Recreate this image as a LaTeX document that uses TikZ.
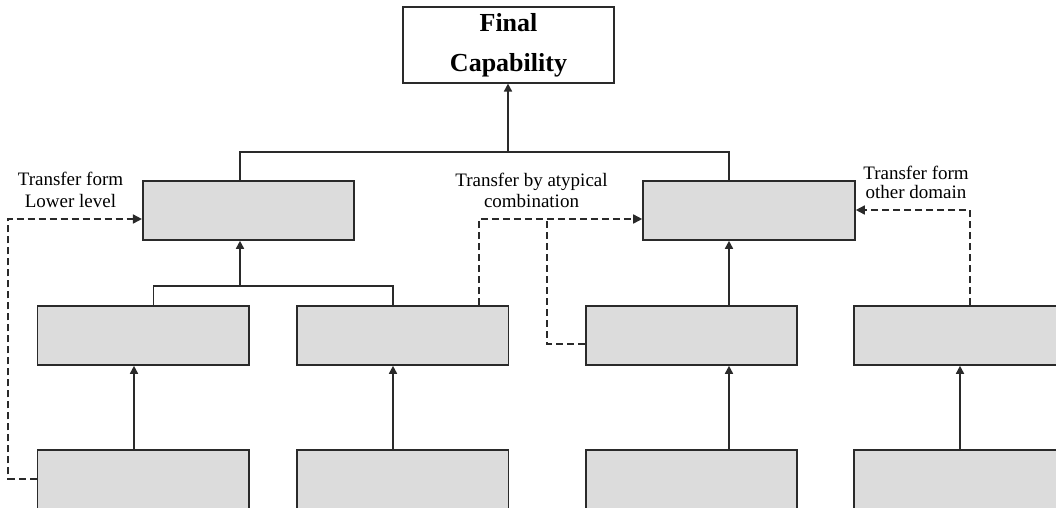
\documentclass[tikz,border=0pt]{standalone}
\usepackage{fontspec}
\setmainfont{Liberation Serif}
\usetikzlibrary{arrows.meta}
\definecolor{ln}{HTML}{2A2A2A}
\definecolor{bx}{HTML}{DCDCDC}
\begin{document}
\begin{tikzpicture}[x=1pt,y=-1pt,
  box/.style={draw=ln,fill=bx,line width=1.6pt,minimum width=211.5pt,minimum height=59pt,inner sep=0pt},
  topbox/.style={draw=ln,fill=white,line width=1.6pt,minimum width=211pt,minimum height=75.5pt,inner sep=0pt,align=center,font=\fontsize{26}{40}\selectfont\bfseries},
  conn/.style={draw=ln,line width=1.6pt},
  arr/.style={conn,-{Triangle[length=8pt,width=8pt]}},
  dsh/.style={draw=ln,line width=1.6pt,dash pattern=on 7pt off 4pt},
  darr/.style={dsh,-{Triangle[length=9pt,width=9pt]}},
  lab/.style={anchor=north,inner sep=0pt,align=center,font=\fontsize{19}{21.5}\selectfont}]
\useasboundingbox (0,0) rectangle (1056,507);
\fill[white] (0,0) rectangle (1056,507);
\clip (0,0) rectangle (1056,507);
% boxes
\node[topbox] (top) at (508.5,45) {Final\\Capability};
\node[box] (l2a) at (248.5,210.5) {};
\node[box,minimum width=212pt] (l2b) at (749,210.5) {};
\node[box] (l3a) at (143.25,335.5) {};
\node[box] (l3b) at (402.8,335.5) {};
\node[box] (l3c) at (691.5,335.5) {};
\node[box,minimum width=212pt] (l3d) at (960,335.5) {};
\node[box] (l4a) at (143.25,479.5) {};
\node[box] (l4b) at (402.8,479.5) {};
\node[box] (l4c) at (691.5,479.5) {};
\node[box,minimum width=212pt] (l4d) at (960,479.5) {};
% helper coordinates
\coordinate (hy) at (0,152);
\coordinate (hy2) at (0,286);
\coordinate (xa) at (134,0);
\coordinate (xb) at (393,0);
\coordinate (xc) at (729,0);
\coordinate (xd) at (960,0);
\coordinate (xl) at (240,0);
\coordinate (xt) at (508,0);
\coordinate (xs) at (153.6,0);
\coordinate (dl) at (8,0);
\coordinate (dy) at (0,219);
\coordinate (dx2) at (479,0);
\coordinate (dx3) at (547,0);
\coordinate (dx4) at (970,0);
\coordinate (dy4) at (0,210);
% tree connectors
\draw[conn] (l2a.north -| xl) -- (hy -| xl) -- (hy -| xc) -- (l2b.north -| xc);
\draw[arr] (hy -| xt) -- (top.south -| xt);
\draw[conn] (l3a.north -| xs) -- (hy2 -| xs) -- (hy2 -| xb) -- (l3b.north -| xb);
\draw[arr] (hy2 -| xl) -- (l2a.south -| xl);
\draw[arr] (l3c.north -| xc) -- (l2b.south -| xc);
\draw[arr] (l4a.north -| xa) -- (l3a.south -| xa);
\draw[arr] (l4b.north -| xb) -- (l3b.south -| xb);
\draw[arr] (l4c.north -| xc) -- (l3c.south -| xc);
\draw[arr] (l4d.north -| xd) -- (l3d.south -| xd);
% dashed transfers
\draw[darr] (l4a.west |- 0,478.7) -- (dl |- 0,478.7) -- (dl |- dy) -- (l2a.west |- dy);
\draw[darr] (l3b.north -| dx2) -- (dx2 |- dy) -- (l2b.west |- dy);
\draw[dsh] (l3c.west |- 0,344) -- (dx3 |- 0,344) -- (dx3 |- dy);
\draw[darr] (l3d.north -| dx4) -- (dx4 |- dy4) -- (l2b.east |- dy4);
% labels
\node[lab] (t1) at (70.5,172) {Transfer form\\Lower level};
\node[lab] (t2) at (531.5,172.5) {Transfer by atypical\\combination};
\node[lab,font=\fontsize{19}{19}\selectfont] (t3) at (916,166) {Transfer form\\other domain};
\end{tikzpicture}
\end{document}
